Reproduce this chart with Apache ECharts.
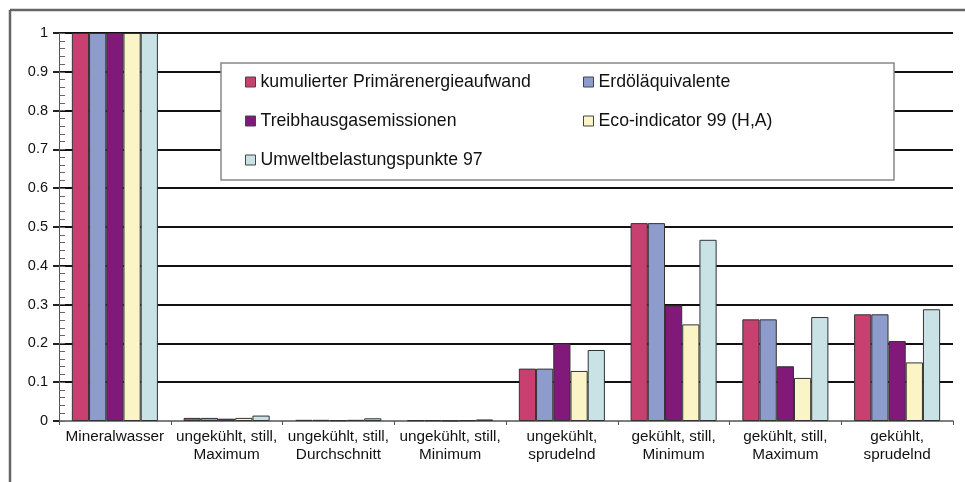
<!DOCTYPE html>
<html>
<head>
<meta charset="utf-8">
<script src="https://cdn.jsdelivr.net/npm/echarts@6/dist/echarts.min.js"></script>
<style>html,body{margin:0;padding:0;background:#fff}#c{width:965px;height:482px}</style>
</head>
<body>
<div id="c"></div>
<script>
var categories = ['Mineralwasser', 'ungekühlt, still,\nMaximum', 'ungekühlt, still,\nDurchschnitt', 'ungekühlt, still,\nMinimum', 'ungekühlt,\nsprudelnd', 'gekühlt, still,\nMinimum', 'gekühlt, still,\nMaximum', 'gekühlt,\nsprudelnd'];
var seriesNames = ['kumulierter Primärenergieaufwand', 'Erdöläquivalente', 'Treibhausgasemissionen', 'Eco-indicator 99 (H,A)', 'Umweltbelastungspunkte 97'];
var kea = [1, 0.008, 0.003, 0.002, 0.135, 0.51, 0.262, 0.275];
var erdoel = [1, 0.008, 0.003, 0.002, 0.135, 0.51, 0.262, 0.275];
var thg = [1, 0.006, 0.002, 0.001, 0.2, 0.298, 0.141, 0.206];
var eco = [1, 0.008, 0.003, 0.002, 0.129, 0.249, 0.111, 0.151];
var ubp = [1, 0.014, 0.007, 0.004, 0.183, 0.467, 0.268, 0.288];
var yTicks = [0, 0.1, 0.2, 0.3, 0.4, 0.5, 0.6, 0.7, 0.8, 0.9, 1];

var colors = ['#C8406F', '#8E9BCD', '#80197A', '#FAF4C6', '#C8E2E6'];
var values = [kea, erdoel, thg, eco, ubp];
var font = '"Liberation Sans", Arial, sans-serif';

var series = seriesNames.map(function (n, i) {
  return {
    name: n, type: 'bar', data: values[i], yAxisIndex: 0,
    barGap: '0%', barCategoryGap: '23%',
    itemStyle: { color: colors[i], borderColor: '#333', borderWidth: 1 },
    z: 2
  };
});

var legendCommon = {
  orient: 'vertical', padding: 0, itemGap: 21, itemWidth: 10, itemHeight: 10,
  icon: 'rect', top: 73, z: 10,
  itemStyle: { borderColor: '#444', borderWidth: 1 },
  textStyle: { fontFamily: font, fontSize: 17.7, color: '#111', lineHeight: 17 },
  selectedMode: false
};

var chart = echarts.init(document.getElementById('c'));
chart.setOption({
  animation: false,
  color: colors,
  grid: { left: 59, right: 12, top: 33, bottom: 61, containLabel: false },
  legend: [
    Object.assign({}, legendCommon, { left: 245, data: [seriesNames[0], seriesNames[2], seriesNames[4]] }),
    Object.assign({}, legendCommon, { left: 583, data: [seriesNames[1], seriesNames[3]] })
  ],
  graphic: [
    { type: 'line', shape: { x1: 10, y1: 10, x2: 965, y2: 10 }, style: { stroke: '#666', lineWidth: 2.5 }, z: 1 },
    { type: 'line', shape: { x1: 10, y1: 10, x2: 10, y2: 482 }, style: { stroke: '#666', lineWidth: 2.5 }, z: 1 },
    { type: 'rect', shape: { x: 221, y: 63, width: 673, height: 117 }, style: { fill: '#fff', stroke: '#888', lineWidth: 1.5 }, z: 5 }
  ],
  xAxis: {
    type: 'category', data: categories,
    axisLine: { lineStyle: { color: '#555', width: 1.5 } },
    axisTick: { show: true, length: 4, lineStyle: { color: '#555' } },
    axisLabel: { interval: 0, margin: 7, fontFamily: font, fontSize: 15.3, lineHeight: 18, color: '#111' },
    splitLine: { show: false }
  },
  yAxis: [
    {
      type: 'value', min: 0, max: 1, interval: 0.1,
      axisLine: { show: true, lineStyle: { color: '#555', width: 1 } },
      axisTick: { show: true, length: 6, lineStyle: { color: '#222', width: 2 } },
      axisLabel: {
        margin: 11, fontFamily: font, fontSize: 14.5, color: '#111',
        formatter: function (v) {
          for (var i = 0; i < yTicks.length; i++) { if (Math.abs(yTicks[i] - v) < 1e-9) return String(yTicks[i]); }
          return '';
        }
      },
      splitLine: { show: true, showMinLine: false, lineStyle: { color: '#111', width: 2 } }
    },
    {
      type: 'value', min: 0, max: 1, interval: 0.02, position: 'left',
      axisLine: { show: false },
      axisTick: { show: true, inside: true, length: 6, lineStyle: { color: '#666', width: 1 } },
      axisLabel: { show: false },
      splitLine: { show: false }
    }
  ],
  series: series
});
</script>
</body>
</html>
